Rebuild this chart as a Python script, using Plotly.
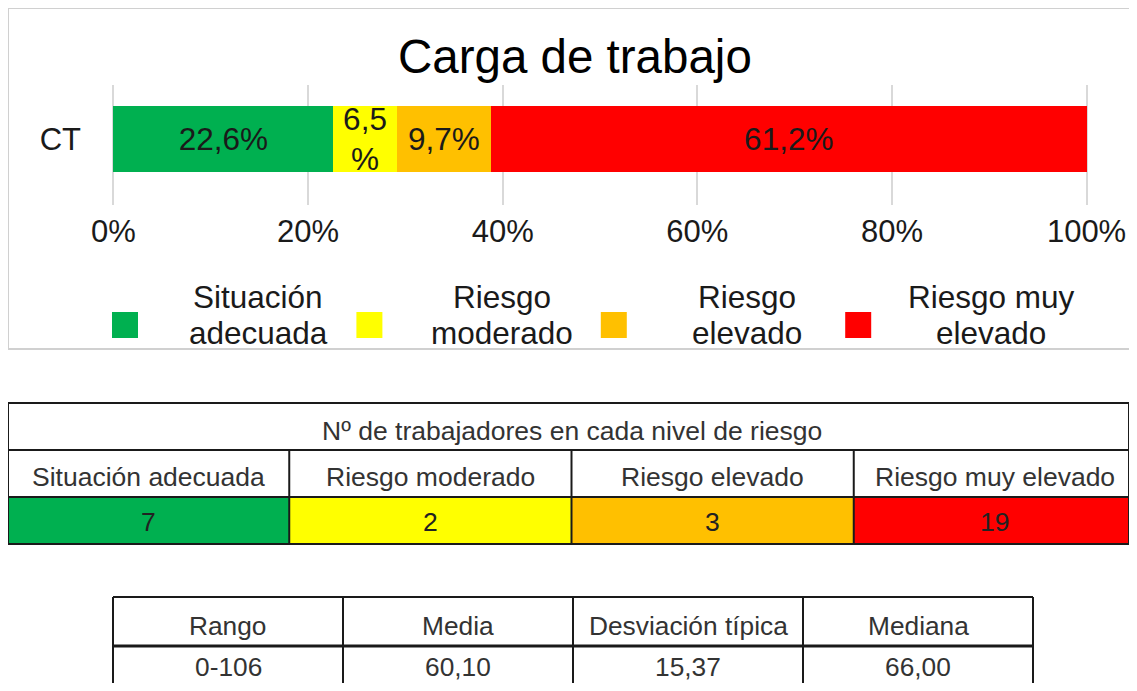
import plotly.graph_objects as go

# ---------------- data ----------------
categories = ["Situación adecuada", "Riesgo moderado", "Riesgo elevado", "Riesgo muy elevado"]
legend_lines = ["Situación<br>adecuada", "Riesgo<br>moderado", "Riesgo<br>elevado", "Riesgo muy<br>elevado"]
percentages = [22.6, 6.5, 9.7, 61.2]
bar_labels = ["22,6%", "6,5<br>%", "9,7%", "61,2%"]
colors = ["#00B050", "#FFFF00", "#FFC000", "#FF0000"]
row_label = "CT"
title_text = "Carga de trabajo"
x_ticks = [0, 20, 40, 60, 80, 100]
x_tick_labels = ["0%", "20%", "40%", "60%", "80%", "100%"]

counts_title = "Nº de trabajadores en cada nivel de riesgo"
counts = [7, 2, 3, 19]

stat_names = ["Rango", "Media", "Desviación típica", "Mediana"]
stat_values = ["0-106", "60,10", "15,37", "66,00"]

# ---------------- layout helpers ----------------
# the page body keeps its default 8px margin, so the figure is sized to fit the window exactly
OFF = 8
W, H = 1137 - 2 * OFF, 691 - 2 * OFF
FONT = "Liberation Sans, Arial, sans-serif"
RIGHT = OFF + W      # right paper edge, in window pixels
BOTTOM = OFF + H     # bottom paper edge, in window pixels


def px(x):
    return min(max((x - OFF) / W, 0.0), 1.0)


def py(y):
    return min(max(1 - (y - OFF) / H, 0.0), 1.0)


def hline(x0, x1, y, color, width):
    return dict(type="line", xref="paper", yref="paper", x0=px(x0), x1=px(x1), y0=py(y), y1=py(y),
                line=dict(color=color, width=width))


def vline(x, y0, y1, color, width):
    return dict(type="line", xref="paper", yref="paper", x0=px(x), x1=px(x), y0=py(y0), y1=py(y1),
                line=dict(color=color, width=width))


def label(text, x, y, size, color="#333333"):
    return dict(text=text, xref="paper", yref="paper", x=px(x), y=py(y),
                xanchor="center", yanchor="middle", showarrow=False, align="center",
                font=dict(size=size, color=color, family=FONT))


fig = go.Figure()

for cat, val, lab, col in zip(categories, percentages, bar_labels, colors):
    fig.add_trace(go.Bar(
        y=[row_label], x=[val], orientation="h", name=cat,
        marker=dict(color=col, line=dict(width=0)),
        text=[lab], textposition="inside", insidetextanchor="middle",
        textangle=0, textfont=dict(size=31.5, color="#1a1a1a", family=FONT),
        width=1, showlegend=False, hoverinfo="skip",
    ))

shapes = []
annotations = []

# outer frame of the chart (its right side lies outside the window)
FR = "#d0d0d0"
shapes.append(hline(6, RIGHT, 6, FR, 2))
shapes.append(hline(6, RIGHT, 349, FR, 2))
shapes.append(vline(6, 6, 349, FR, 2))

# title
annotations.append(label(title_text, 575, 56, 47.5, "#000000"))

# legend (squares + centred two-line labels)
for i, (lab, col) in enumerate(zip(legend_lines, colors)):
    sx = 112 + i * 244.4
    shapes.append(dict(type="rect", xref="paper", yref="paper",
                       x0=px(sx), x1=px(sx + 26), y0=py(338), y1=py(312),
                       fillcolor=col, line=dict(width=0)))
    for j, part in enumerate(lab.split("<br>")):
        annotations.append(label(part, sx + 146, 297 + 36 * j, 31.5, "#1a1a1a"))

# ---------------- table 1: counts ----------------
T1_L, T1_R = 7, 1136
T1_Y = [403, 450, 497, 544]
LINE = "#1a1a1a"
col_w = (T1_R - T1_L) / len(categories)
for i, (c, col) in enumerate(zip(counts, colors)):
    x0 = T1_L + i * col_w
    shapes.append(dict(type="rect", xref="paper", yref="paper",
                       x0=px(x0), x1=px(x0 + col_w), y0=py(T1_Y[3]), y1=py(T1_Y[2]),
                       fillcolor=col, line=dict(width=0), layer="below"))
    annotations.append(label(str(c), x0 + col_w / 2, 522, 26.5, "#222222"))
    annotations.append(label(categories[i], x0 + col_w / 2, 477, 26.5))
annotations.append(label(counts_title, (T1_L + T1_R) / 2, 431, 26.5))
for yy in T1_Y:
    shapes.append(hline(T1_L, T1_R, yy, LINE, 2))
shapes.append(vline(T1_L, T1_Y[0], T1_Y[3], LINE, 2))
shapes.append(vline(T1_R, T1_Y[0], T1_Y[3], LINE, 2))
for i in range(1, len(categories)):
    shapes.append(vline(T1_L + i * col_w, T1_Y[1], T1_Y[3], LINE, 2))

# ---------------- table 2: statistics ----------------
T2_L, T2_R = 113, 1033
T2_Y = [597, 646, BOTTOM]
col2_w = (T2_R - T2_L) / len(stat_names)
for i, (nm, vl) in enumerate(zip(stat_names, stat_values)):
    cx = T2_L + i * col2_w + col2_w / 2
    annotations.append(label(nm, cx, 626, 26.3))
    annotations.append(label(vl, cx, 667, 26.3))
shapes.append(hline(T2_L, T2_R, T2_Y[0], LINE, 2))
shapes.append(hline(T2_L, T2_R, T2_Y[1], LINE, 3))
for i in range(len(stat_names) + 1):
    shapes.append(vline(T2_L + i * col2_w, T2_Y[0], T2_Y[2], LINE, 2))

fig.update_layout(
    width=W, height=H,
    margin=dict(l=0, r=0, t=0, b=0, autoexpand=False),
    paper_bgcolor="white", plot_bgcolor="white",
    barmode="stack",
    uniformtext=dict(minsize=31.5, mode="show"),
    font=dict(family=FONT, color="#1a1a1a"),
    shapes=shapes, annotations=annotations,
    xaxis=dict(domain=[px(112), px(1088)], range=[-0.15, 100.15], tickmode="array",
               tickvals=x_ticks, ticktext=x_tick_labels, automargin=False,
               showgrid=True, gridcolor="#d9d9d9", gridwidth=1.5, zeroline=False, showline=False,
               ticks="", ticklabelstandoff=5, tickfont=dict(size=31, color="#1a1a1a", family=FONT),
               fixedrange=True),
    yaxis=dict(domain=[py(205), py(85)], range=[-1.0, 0.818], type="category", automargin=False,
               showgrid=False, zeroline=False, showline=False, ticks="", ticklabelstandoff=30,
               tickfont=dict(size=31, color="#1a1a1a", family=FONT), fixedrange=True),
)

fig.write_html("out.html")
